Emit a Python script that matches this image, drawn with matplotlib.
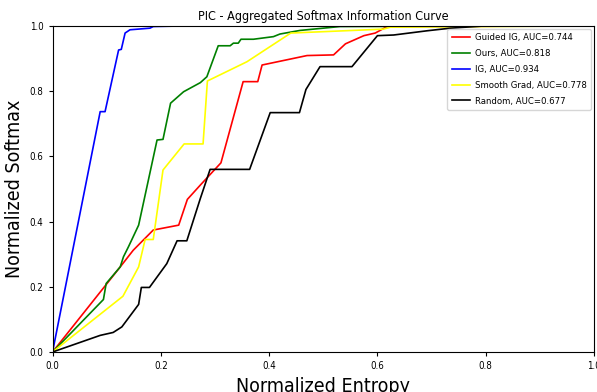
import matplotlib
matplotlib.use("Agg")
import matplotlib.pyplot as plt
from matplotlib import font_manager

# pick a condensed face if one is installed
names = {f.name for f in font_manager.fontManager.ttflist}
cond = [f for f in font_manager.fontManager.ttflist if "Condensed" in f.fname and "DejaVuSans" in f.fname]
if cond:
    plt.rcParams["font.family"] = "DejaVu Sans"
    plt.rcParams["font.stretch"] = "condensed"
elif "Liberation Sans Narrow" in names:
    plt.rcParams["font.family"] = "Liberation Sans Narrow"

# Curves
gig_x = [0, 0.125, 0.149, 0.186, 0.233, 0.249, 0.273, 0.311, 0.352, 0.379, 0.387, 0.470,
         0.519, 0.541, 0.575, 0.596, 0.618, 1.0]
gig_y = [0, 0.261, 0.312, 0.374, 0.389, 0.468, 0.512, 0.580, 0.829, 0.829, 0.880, 0.909,
         0.911, 0.945, 0.970, 0.978, 0.998, 1.0]

ours_x = [0, 0.094, 0.099, 0.125, 0.131, 0.140, 0.146, 0.159, 0.193, 0.204, 0.218, 0.242,
          0.273, 0.285, 0.306, 0.328, 0.334, 0.343, 0.348, 0.371, 0.408, 0.420, 0.457,
          0.531, 1.0]
ours_y = [0, 0.161, 0.210, 0.261, 0.292, 0.322, 0.343, 0.389, 0.650, 0.652, 0.763, 0.798,
          0.826, 0.844, 0.939, 0.939, 0.947, 0.947, 0.959, 0.959, 0.967, 0.975, 0.986,
          0.998, 1.0]

ig_x = [0, 0.088, 0.097, 0.122, 0.127, 0.134, 0.143, 0.180, 0.186, 0.25, 1.0]
ig_y = [0, 0.737, 0.737, 0.926, 0.928, 0.978, 0.988, 0.993, 0.998, 1.0, 1.0]

sg_x = [0, 0.130, 0.159, 0.171, 0.186, 0.204, 0.243, 0.278, 0.286, 0.359, 0.440, 0.611,
        0.624, 1.0]
sg_y = [0, 0.171, 0.261, 0.345, 0.345, 0.558, 0.638, 0.638, 0.831, 0.890, 0.978, 0.990,
        0.996, 1.0]

rnd_x = [0, 0.088, 0.112, 0.128, 0.159, 0.164, 0.179, 0.211, 0.230, 0.248, 0.273, 0.291,
         0.364, 0.402, 0.456, 0.468, 0.494, 0.553, 0.600, 0.630, 0.692, 0.735, 0.80, 1.0]
rnd_y = [0, 0.051, 0.060, 0.077, 0.146, 0.198, 0.198, 0.271, 0.341, 0.341, 0.471, 0.560,
         0.560, 0.734, 0.734, 0.805, 0.875, 0.875, 0.970, 0.972, 0.985, 0.993, 1.0, 1.0]

labels = ["Guided IG, AUC=0.744", "Ours, AUC=0.818", "IG, AUC=0.934",
          "Smooth Grad, AUC=0.778", "Random, AUC=0.677"]
colors = ["red", "green", "blue", "yellow", "black"]
xs = [gig_x, ours_x, ig_x, sg_x, rnd_x]
ys = [gig_y, ours_y, ig_y, sg_y, rnd_y]

fig = plt.figure(figsize=(5.97, 3.92), dpi=100)
ax = fig.add_axes([0.088, 0.102, 0.907, 0.832])

for x, y, c, lab in zip(xs, ys, colors, labels):
    ax.plot(x, y, color=c, lw=1.2, label=lab)

ax.set_xlim(0, 1)
ax.set_ylim(0, 1)
ax.set_title("PIC - Aggregated Softmax Information Curve", fontsize=9, pad=4)
ax.set_xlabel("Normalized Entropy", fontsize=14)
ax.set_ylabel("Normalized Softmax", fontsize=14)
ax.tick_params(labelsize=7, length=3)
ax.legend(loc="upper right", fontsize=6.8, handlelength=1.9, handletextpad=0.5,
          borderpad=0.5, labelspacing=0.72, borderaxespad=0.3, framealpha=0.8)

fig.savefig("out.png", dpi=100)
